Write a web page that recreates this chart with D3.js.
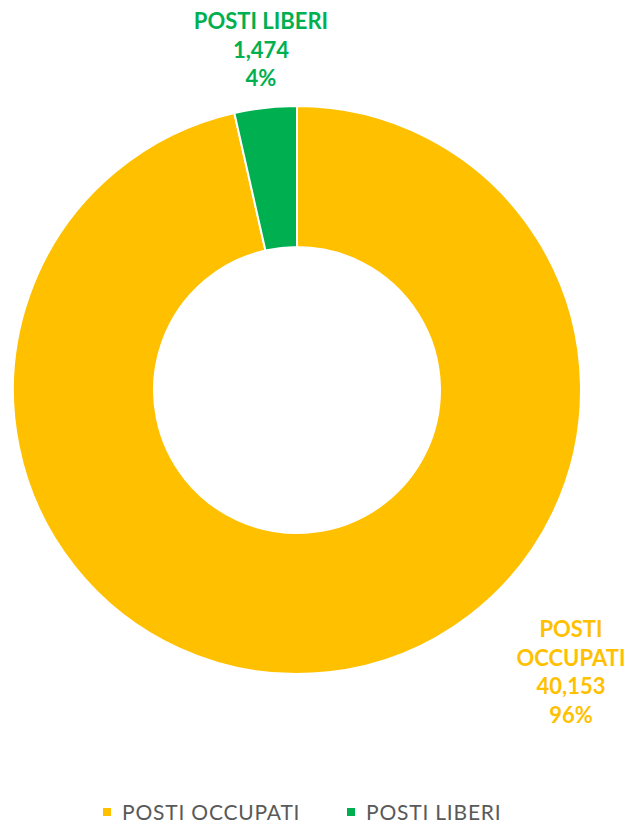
<!DOCTYPE html>
<html>
<head>
<meta charset="utf-8">
<script src="https://cdn.jsdelivr.net/npm/d3@7"></script>
<style>
  body { margin: 0; background: #fff; }
  svg { display: block; }
</style>
</head>
<body>
<div id="chart"></div>
<script>
// data
const categories = ["POSTI OCCUPATI", "POSTI LIBERI"];
const values = [40153, 1474];
const percentLabels = ["96%", "4%"];
const colors = ["#FFC000", "#00B050"];

const width = 636, height = 823;
const cx = 297, cy = 390, outerR = 284, innerR = 143;
const font = "'Century Gothic', 'Lato', 'DejaVu Sans', sans-serif";

const svg = d3.select("#chart").append("svg")
    .attr("width", width)
    .attr("height", height);

const pie = d3.pie().sort(null).value(d => d);
const arcs = pie(values);
const arc = d3.arc().innerRadius(innerR).outerRadius(outerR);

const g = svg.append("g").attr("transform", `translate(${cx},${cy})`);

g.selectAll("path")
    .data(arcs)
    .enter().append("path")
    .attr("d", arc)
    .attr("fill", (d, i) => colors[i])
    .attr("stroke", "#fff")
    .attr("stroke-width", 2);

// data labels
const fmt = d3.format(",");
const labelPos = [
    { x: 571, y: 637, lines: ["POSTI", "OCCUPATI"] },
    { x: 261, y: 29, lines: ["POSTI LIBERI"] }
];
labelPos.forEach((p, i) => {
    const lines = p.lines.concat([fmt(values[i]), percentLabels[i]]);
    svg.append("g").selectAll("text")
        .data(lines)
        .enter().append("text")
        .attr("x", p.x)
        .attr("y", (d, j) => p.y + j * 28.6)
        .attr("text-anchor", "middle")
        .style("font-family", font)
        .style("font-weight", "bold")
        .style("font-size", "22px")
        .style("fill", colors[i])
        .text(d => d);
});

// legend
const legendX = [103, 347];
const legend = svg.append("g");
categories.forEach((c, i) => {
    legend.append("rect")
        .attr("x", legendX[i])
        .attr("y", 808)
        .attr("width", 8)
        .attr("height", 8)
        .attr("fill", colors[i]);
    legend.append("text")
        .attr("x", legendX[i] + 19)
        .attr("y", 820)
        .style("font-family", font)
        .style("font-size", "21px")
        .style("letter-spacing", "0.8px")
        .style("fill", "#595959")
        .text(c);
});
</script>
</body>
</html>
